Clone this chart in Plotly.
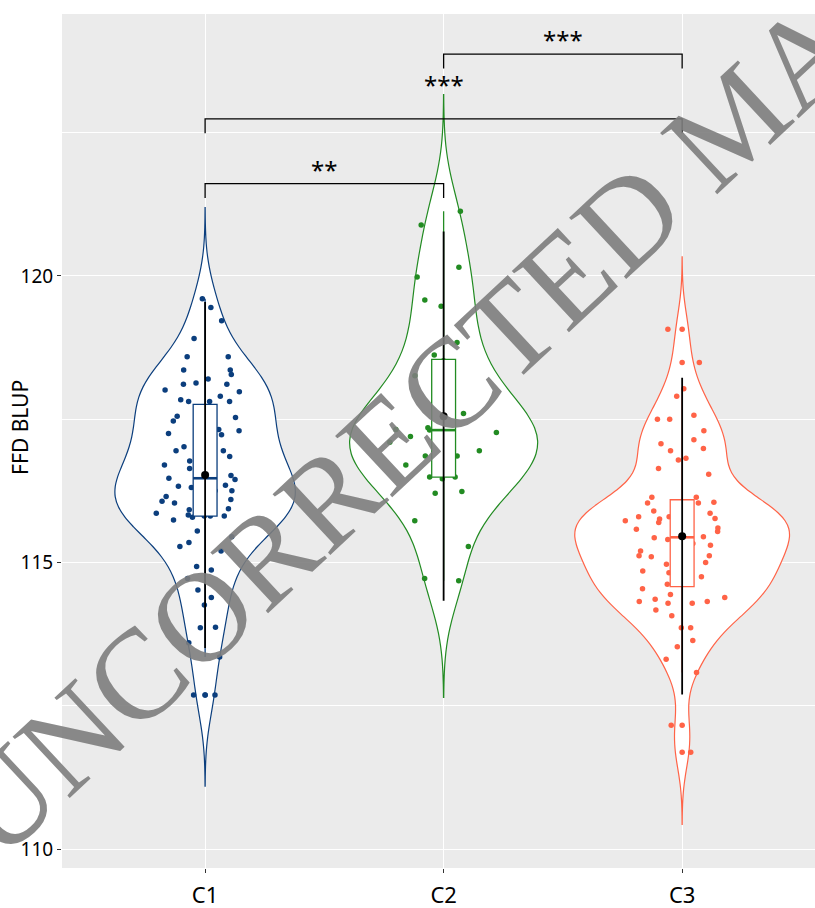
import numpy as np
import plotly.graph_objects as go

categories = ["C1", "C2", "C3"]

# values read from the jittered points (plus a few estimated points hidden behind the white boxes)
c1_values = [119.60, 119.45, 119.22, 118.91, 118.59, 118.59, 118.36, 118.36, 118.28, 118.20,
             118.11, 118.11, 118.13, 118.01, 117.98, 117.90, 117.81, 117.81, 117.84, 117.81,
             117.60, 117.53, 117.55, 117.47, 117.32, 117.30, 117.25, 117.23, 117.15, 117.02,
             116.95, 116.95, 116.95, 116.85, 116.77, 116.70, 116.64, 116.57, 116.52, 116.47,
             116.45, 116.31, 116.33, 116.07, 116.04, 116.25, 116.10, 115.98, 115.91, 115.92,
             115.94, 115.86, 115.81, 115.74, 115.81, 115.81, 115.83, 115.79, 115.55, 115.45,
             115.35, 115.28, 115.20, 114.93, 114.87, 114.72, 114.52, 114.39, 114.26, 113.87,
             113.86, 113.60, 113.35, 112.69, 112.69,
             116.40, 116.25, 116.15, 116.35]

c2_values = [121.13, 120.89, 120.15, 119.98, 119.58, 119.47, 118.84, 118.62, 118.52, 118.26,
             117.70, 117.60, 117.35, 117.32, 117.31, 117.27, 117.10, 116.95, 116.86, 116.86,
             116.49, 116.49, 116.46, 116.24, 116.21, 115.73, 115.28, 114.72, 114.68,
             117.80, 117.50, 117.20, 116.70]

c3_values = [119.07, 118.49, 118.03, 117.90, 117.57, 117.50, 117.50, 117.30, 117.14, 117.07,
             116.99, 116.95, 116.82, 116.79, 116.64, 116.54, 116.14, 116.14, 116.04, 116.04,
             116.04, 115.86, 115.80, 115.80, 115.77, 115.76, 115.73, 115.68, 115.58, 115.54,
             115.45, 115.43, 115.40, 115.33, 115.12, 115.12, 115.10, 115.03, 114.97, 114.85,
             114.82, 114.78, 114.66, 114.54, 114.44, 114.39, 114.36, 114.32, 114.32, 114.29,
             114.29, 114.17, 114.07, 113.86, 113.86, 113.64, 113.53, 113.31, 113.08, 112.16,
             111.69,
             116.05, 115.90, 115.70, 115.60, 115.50, 115.30, 115.20, 115.00, 114.90, 114.75,
             114.62]

group_colors = ["#0B3E7D", "#228B22", "#FF6347"]

# significance comparisons (group a, group b, label), bracket heights and label heights
comparisons = [("C1", "C2", "**"), ("C1", "C3", "***"), ("C2", "C3", "***")]
bracket_y = [121.61, 122.74, 123.87]
label_y = [121.61, 123.09, 123.87]
tip_length = 0.25

y_ticks = [110, 115, 120]
y_minor = [112.5, 117.5, 122.5]

groups = [c1_values, c2_values, c3_values]
box_width = 0.1


def nrd0(v):
    sd = v.std(ddof=1)
    iqr = np.percentile(v, 75) - np.percentile(v, 25)
    return 0.9 * min(sd, iqr / 1.34) * len(v) ** -0.2


def kde_max(v, bw):
    grid = np.linspace(v.min() - 3 * bw, v.max() + 3 * bw, 512)
    z = (grid[:, None] - v[None, :]) / bw
    dens = np.exp(-0.5 * z ** 2).sum(axis=1) / (len(v) * bw * np.sqrt(2 * np.pi))
    return dens.max()


arrs = [np.array(g, dtype=float) for g in groups]
bws = [nrd0(a) for a in arrs]
peaks = [kde_max(a, b) for a, b in zip(arrs, bws)]
widths = [0.9 * p / max(peaks) for p in peaks]  # equal-area scaling, like ggplot's scale="area"

fig = go.Figure()

for i, (cat, v, col, bw, w) in enumerate(zip(categories, arrs, group_colors, bws, widths)):
    pos = i + 1
    n = len(v)
    fig.add_trace(go.Violin(
        x=[pos] * n, y=v, width=w, bandwidth=bw,
        spanmode="manual", span=[v.min() - 3 * bw, v.max() + 3 * bw],
        fillcolor="white", line=dict(color=col, width=1.2),
        points="all", jitter=min(1.0, 0.25 / (w / 2)), pointpos=0,
        marker=dict(color=col, size=5.5),
        scalemode="width", scalegroup=cat,
        showlegend=False, hoverinfo="y", name=cat))

for i, (cat, v, col) in enumerate(zip(categories, arrs, group_colors)):
    pos = i + 1
    n = len(v)
    fig.add_trace(go.Box(
        x=[pos] * n, y=v, width=box_width, boxpoints="outliers", jitter=0, pointpos=0,
        quartilemethod="linear", whiskerwidth=0,
        marker=dict(color=col, size=5.5), line=dict(color=col, width=1.3),
        fillcolor="white", showlegend=False, name=cat))

# thicker median bar (ggplot "fatten")
for i, (v, col) in enumerate(zip(arrs, group_colors)):
    pos = i + 1
    med = np.median(v)
    fig.add_trace(go.Scatter(x=[pos - box_width / 2, pos + box_width / 2], y=[med, med],
                             mode="lines", line=dict(color=col, width=2.6),
                             showlegend=False, hoverinfo="skip"))

for i, v in enumerate(arrs):
    pos = i + 1
    m = v.mean()
    sd = v.std(ddof=1)
    fig.add_trace(go.Scatter(x=[pos, pos], y=[m - 2 * sd, m + 2 * sd], mode="lines",
                             line=dict(color="black", width=1.8), showlegend=False, hoverinfo="skip"))
    fig.add_trace(go.Scatter(x=[pos], y=[m], mode="markers",
                             marker=dict(color="black", size=8), showlegend=False))

cat_pos = {c: i + 1 for i, c in enumerate(categories)}
for (a, b, lab), yb, yl in zip(comparisons, bracket_y, label_y):
    xa, xb = cat_pos[a], cat_pos[b]
    fig.add_trace(go.Scatter(x=[xa, xa, xb, xb], y=[yb - tip_length, yb, yb, yb - tip_length],
                             mode="lines", line=dict(color="black", width=1.3),
                             showlegend=False, hoverinfo="skip"))
    fig.add_annotation(x=(xa + xb) / 2, y=yl, text=lab, showarrow=False,
                       xanchor="center", yanchor="bottom", yshift=-4,
                       font=dict(family="Noto Sans", size=24, color="black"))

# y-axis title
fig.add_annotation(xref="paper", yref="paper", x=-0.055, y=0.516, text="FFD BLUP",
                   showarrow=False, textangle=-90, xanchor="center", yanchor="middle",
                   font=dict(family="Noto Sans", size=21, color="black"))

# watermark
fig.add_annotation(xref="paper", yref="paper", x=0.754, y=0.762,
                   text="UNCORRECTED MANUSCRIPT", showarrow=False, textangle=-43,
                   xanchor="center", yanchor="middle",
                   font=dict(family="Liberation Serif", size=128, color="rgba(125,125,125,0.9)"))

fig.update_layout(
    width=815, height=908,
    margin=dict(l=62, r=0, t=14, b=40),
    plot_bgcolor="#EBEBEB", paper_bgcolor="white",
    violinmode="overlay", boxmode="overlay",
    font=dict(family="Noto Sans", color="black"),
)
fig.update_xaxes(range=[0.4, 3.557], tickvals=[1, 2, 3], ticktext=categories,
                 showgrid=True, gridcolor="white", gridwidth=1.4, zeroline=False,
                 ticks="outside", ticklen=4, tickcolor="#333333", tickwidth=1,
                 ticklabelstandoff=4,
                 tickfont=dict(size=22, color="black"), automargin=False, showline=False)
fig.update_yaxes(range=[109.67, 124.57], tickvals=y_ticks,
                 showgrid=True, gridcolor="white", gridwidth=1.4, zeroline=False,
                 minor=dict(tickvals=y_minor, showgrid=True, gridcolor="white", gridwidth=0.7, ticks=""),
                 ticks="outside", ticklen=4, tickcolor="#333333", tickwidth=1,
                 tickfont=dict(size=19, color="black"),
                 automargin=False, showline=False)

fig.write_html("out.html", config={"displayModeBar": False},
               post_script="document.body.style.margin='0';document.body.style.overflow='hidden';")
